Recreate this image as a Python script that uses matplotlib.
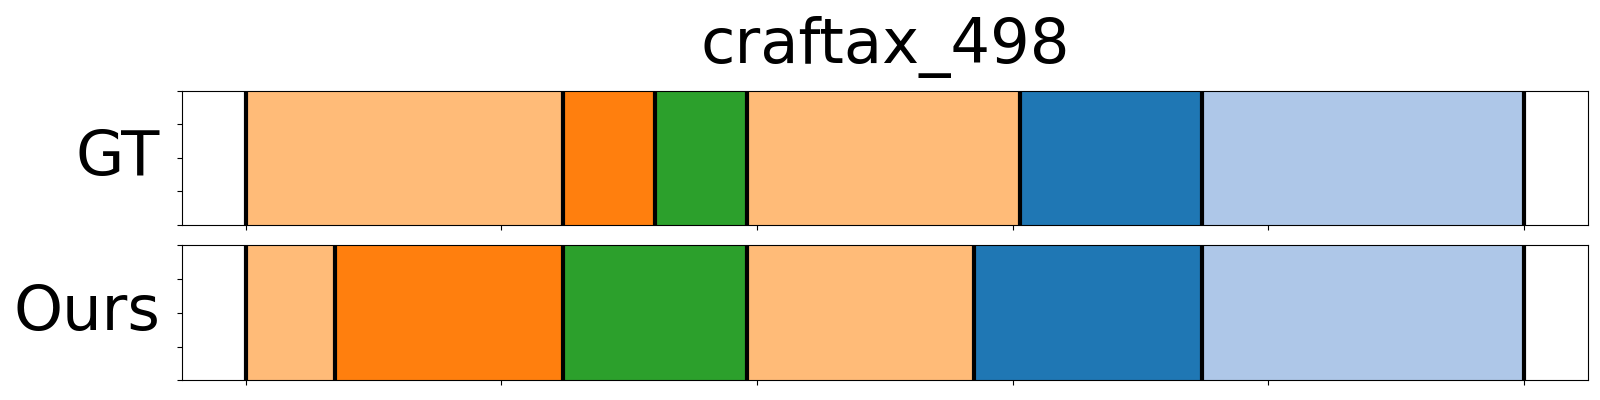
import matplotlib
matplotlib.use("Agg")
import matplotlib.pyplot as plt
import numpy as np

title = "craftax_498"
row_labels = ["GT", "Ours"]

# segment boundaries (frame index) and class index (tab20 colour index) per segment
gt_bounds = [0, 124, 160, 196, 303, 374, 500]
gt_classes = [3, 2, 4, 3, 0, 1]
ours_bounds = [0, 35, 124, 196, 285, 374, 500]
ours_classes = [3, 2, 4, 3, 0, 1]

cmap = plt.get_cmap("tab20")

fig = plt.figure(figsize=(16, 4), dpi=100)
ax_top = fig.add_axes([0.1136, 0.4375, 0.8789, 0.3357])
ax_bot = fig.add_axes([0.1136, 0.049, 0.8789, 0.3375])

for ax, bounds, classes, label in [(ax_top, gt_bounds, gt_classes, row_labels[0]),
                                   (ax_bot, ours_bounds, ours_classes, row_labels[1])]:
    for s, e, c in zip(bounds[:-1], bounds[1:], classes):
        ax.axvspan(s, e, ymin=0, ymax=1, facecolor=cmap(c), edgecolor=cmap(c), linewidth=0.5)
    for b in bounds:
        ax.axvline(b, color="black", linewidth=3)
    span = bounds[-1] - bounds[0]
    ax.set_xlim(bounds[0] - 0.05 * span, bounds[-1] + 0.05 * span)
    ax.set_ylim(0, 1)
    ax.set_yticks(np.linspace(0, 1, 5))
    ax.set_xticks(np.arange(bounds[0], bounds[-1] + 1, 100))
    ax.tick_params(labelleft=False, labelbottom=False)
    ax.set_ylabel(label, rotation=0, fontsize=45, ha="right", va="center", labelpad=12)

ax_top.set_title(title, fontsize=45, pad=20)

fig.savefig("out.png", dpi=100)
